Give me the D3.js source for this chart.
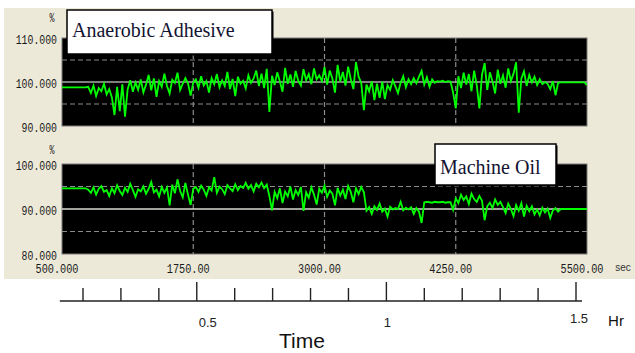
<!DOCTYPE html>
<html><head><meta charset="utf-8">
<script src="https://cdn.jsdelivr.net/npm/d3@7"></script>
<style>html,body{margin:0;padding:0;background:#fff}svg{display:block}</style>
</head><body>
<svg id="c" width="635" height="353"></svg>
<script>
// ---- data ----
const sampleTimesStart = 500, sampleTimesStep = 25; // seconds, 201 samples 500..5500
const xTickValues = [500, 1750, 3000, 4250, 5500];
const xTickLabels = ["500.000", "1750.00", "3000.00", "4250.00", "5500.00"];
const topTickValues = [110, 100, 90];
const topTickLabels = ["110.000", "100.000", "90.000"];
const botTickValues = [100, 90, 80];
const botTickLabels = ["100.000", "90.000", "80.000"];
const hourTicks = [0.2,0.3,0.4,0.5,0.6,0.7,0.8,0.9,1.0,1.1,1.2,1.3,1.4,1.5];
const hourLabels = [{v:0.5,t:"0.5"},{v:1,t:"1"},{v:1.5,t:"1.5"}];
const seriesNames = ["Anaerobic Adhesive", "Machine Oil"];

const anaerobic = [
98.8,98.8,98.8,98.8,98.8,98.8,98.8,98.8,98.8,98.8,
98.9,97.5,99.2,96.8,98.6,97.9,99.6,97.2,98.4,96.5,92.5,98.9,93.4,99.5,92.1,98.3,100.4,97.8,99.9,98.2,100.6,97.6,
99.4,101.6,98.1,100.8,96.6,100.2,98.9,101.9,99.1,97.4,100.5,99.8,102.1,98.2,99.6,100.9,99.7,96.9,
99.9,100.6,98.7,101.3,99.2,100.2,97.6,100.9,99.5,101.8,98.8,100.4,99.1,102.3,98.4,100.7,96.8,101.2,99.6,100.3,98.5,101.5,99.8,
100.8,102.6,99.1,101.9,98.6,103.0,93.2,101.4,99.3,102.2,100.1,97.8,103.2,99.6,101.7,98.9,102.5,100.3,99.2,102.9,100.4,101.8,99.5,103.1,100.6,101.5,
100.2,103.4,99.4,102.6,100.8,97.6,103.9,100.1,102.3,99.2,103.5,100.7,98.4,104.5,101.2,99.8,93.6,
99.4,97.9,100.2,95.9,99.6,96.4,100.1,96.1,99.3,98.2,100.4,99.0,97.5,99.8,101.3,98.8,100.6,99.5,100.9,
99.7,101.2,102.5,99.4,101.1,98.9,100.6,99.8,100.2,100.1,100.3,100.0,100.2,100.1,
97.6,94.0,
101.3,98.6,102.1,99.4,101.8,97.9,102.6,99.3,94.0,101.7,104.3,98.2,102.2,100.1,97.4,102.8,99.6,101.5,98.7,103.1,100.2,101.9,104.5,93.0,100.8,102.4,99.1,101.6,
99.9,101.2,99.3,100.6,99.5,100.0,99.6,98.4,100.2,97.0,99.8,
99.9,99.9,99.9,99.9,99.9,99.9,99.9,99.9,99.9,99.9,99.3
];
const machineOil = [
94.6,94.6,94.6,94.6,94.6,94.6,94.6,94.6,94.6,94.6,
94.3,93.6,94.8,93.2,94.5,95.1,93.8,94.2,92.9,94.6,93.5,95.3,94.0,93.1,94.7,93.8,95.6,94.2,92.7,94.4,93.9,95.0,93.4,94.5,96.0,93.7,94.3,92.8,94.9,93.6,
94.8,90.8,95.4,93.5,96.6,94.0,92.6,95.8,93.2,90.9,
94.5,94.9,93.8,95.2,94.3,92.9,94.8,94.1,97.1,93.6,95.0,94.4,93.3,95.3,94.6,94.0,95.5,94.2,95.1,94.7,95.8,94.5,95.3,93.9,95.6,94.8,95.9,94.6,95.4,
92.9,89.7,93.8,92.4,94.6,91.3,93.9,92.8,95.0,92.1,94.2,93.1,94.9,89.6,93.7,92.5,94.8,93.2,91.0,94.5,93.6,95.2,92.7,94.1,93.4,90.8,94.7,93.0,94.3,92.2,95.1,93.8,91.5,94.6,93.3,94.9,93.7,
89.6,90.4,88.9,90.6,89.8,91.2,89.4,90.1,88.3,90.5,89.9,90.2,90.0,91.6,89.7,90.3,89.9,90.4,88.9,90.2,89.4,86.9,
91.5,91.6,91.5,91.4,91.6,91.5,91.5,91.6,91.4,91.5,91.5,
89.8,
92.4,91.3,93.2,92.0,92.8,91.1,93.4,92.2,91.6,92.9,91.8,
87.5,90.6,
91.4,90.2,92.1,90.9,91.6,
90.4,89.1,91.2,90.0,88.4,90.9,89.6,91.3,88.3,90.7,89.5,90.6,88.8,
89.9,88.6,90.3,89.2,90.1,88.0,89.7,90.2,89.4,90.0,
90.0,90.0,90.0,90.0,90.0,90.0,90.0,90.0,90.0,90.0
];

// ---- drawing ----
const svg = d3.select("#c");
svg.append("rect").attr("x",4).attr("y",8).attr("width",631).attr("height",271).attr("fill","#ECE9D8");

const x = d3.scaleLinear().domain([500,5500]).range([62,587]);
const panels = [
  {data: anaerobic, y: d3.scaleLinear().domain([90,110]).range([126,38]), ticks: topTickValues, labels: topTickLabels, dashed:[105,95], solid:100, solidColor:"#a8a8a8", pctY:17, id:"a"},
  {data: machineOil, y: d3.scaleLinear().domain([80,100]).range([254,164]), ticks: botTickValues, labels: botTickLabels, dashed:[95,85], solid:90, solidColor:"#d8d8d0", pctY:149, id:"b"}
];

const monoFont = "'Liberation Mono','DejaVu Sans Mono',monospace";

panels.forEach(p => {
  const [y0,y1] = p.y.range();
  const g = svg.append("g");
  g.append("rect").attr("x",x(500)).attr("y",y1).attr("width",x(5500)-x(500)).attr("height",y0-y1)
    .attr("fill","#000").attr("stroke","#7a7a7a").attr("stroke-width",1);
  svg.append("clipPath").attr("id","clip"+p.id).append("rect")
    .attr("x",x(500)).attr("y",y1).attr("width",x(5500)-x(500)).attr("height",y0-y1);
  // grid
  p.dashed.forEach(v => g.append("line").attr("x1",x(500)).attr("x2",x(5500)).attr("y1",p.y(v)).attr("y2",p.y(v))
    .attr("stroke","#8c8c8c").attr("stroke-width",1.2).attr("stroke-dasharray","5,3"));
  [1750,3000,4250].forEach(v => g.append("line").attr("x1",x(v)).attr("x2",x(v)).attr("y1",y1).attr("y2",y0)
    .attr("stroke","#8c8c8c").attr("stroke-width",1.2).attr("stroke-dasharray","5,3"));
  g.append("line").attr("x1",x(500)).attr("x2",x(5500)).attr("y1",p.y(p.solid)).attr("y2",p.y(p.solid))
    .attr("stroke",p.solidColor).attr("stroke-width",1.6);
  // signal
  const line = d3.line().x((d,i)=>x(sampleTimesStart + i*sampleTimesStep)).y(d=>p.y(d));
  g.append("path").attr("d",line(p.data)).attr("fill","none").attr("stroke","#00ff00")
    .attr("stroke-width",1.8).attr("stroke-linejoin","miter").attr("clip-path","url(#clip"+p.id+")");
  // y labels
  p.ticks.forEach((v,i) => {
    const t = p.labels[i];
    g.append("text").attr("x",57).attr("y",p.y(v)+6).attr("text-anchor","end")
      .attr("font-family",monoFont).attr("font-size",13).attr("fill","#1a1a1a")
      .attr("textLength", t.length*5.9).attr("lengthAdjust","spacingAndGlyphs").text(t);
  });
  g.append("text").attr("x",52).attr("y",p.pctY+5).attr("text-anchor","middle")
    .attr("font-family",monoFont).attr("font-size",12).attr("fill","#1a1a1a")
    .attr("textLength",5).attr("lengthAdjust","spacingAndGlyphs").text("%");
});

// x tick labels
xTickValues.forEach((v,i) => {
  svg.append("text").attr("x",x(v)-5).attr("y",273).attr("text-anchor","middle")
    .attr("font-family",monoFont).attr("font-size",13).attr("fill","#1a1a1a")
    .attr("textLength",43).attr("lengthAdjust","spacingAndGlyphs").text(xTickLabels[i]);
});
svg.append("text").attr("x",623).attr("y",271).attr("text-anchor","middle")
  .attr("font-family","'Liberation Sans',Arial,sans-serif").attr("font-size",10).attr("fill","#333").text("sec");

// label boxes
function labelBox(bx,by,bw,bh,txt,tx,ty){
  svg.append("rect").attr("x",bx+1.5).attr("y",by+1.5).attr("width",bw).attr("height",bh).attr("fill","#000");
  svg.append("rect").attr("x",bx).attr("y",by).attr("width",bw).attr("height",bh).attr("fill","#fff")
    .attr("stroke","#000").attr("stroke-width",1.5);
  svg.append("text").attr("x",tx).attr("y",ty).attr("font-family","'Liberation Serif','Times New Roman',serif")
    .attr("font-size",20).attr("fill","#141432").text(txt);
}
labelBox(67,10,205,44,seriesNames[0],72,37);
labelBox(435,144,121,41,seriesNames[1],440,174);

// hour axis
const hx = d3.scaleLinear().domain([0.2,1.5]).range([83,576]);
const axY = 301;
svg.append("line").attr("x1",hx(500/3600)).attr("x2",582).attr("y1",axY).attr("y2",axY)
  .attr("stroke","#222").attr("stroke-width",1.5);
hourTicks.forEach(h => {
  const major = Math.abs(h*2 - Math.round(h*2)) < 1e-6;
  svg.append("line").attr("x1",hx(h)).attr("x2",hx(h)).attr("y1",axY).attr("y2",axY-(major?19:13))
    .attr("stroke","#222").attr("stroke-width",1.4);
});
const hourDx = {"0.5":11, "1":1, "1.5":3};
hourLabels.forEach(d => {
  svg.append("text").attr("x",hx(d.v)+hourDx[d.t]).attr("y",d.v===1.5?323:327).attr("text-anchor","middle")
    .attr("font-family","'Liberation Sans',Arial,sans-serif").attr("font-size",13).attr("fill","#222").text(d.t);
});
svg.append("text").attr("x",616).attr("y",326).attr("text-anchor","middle")
  .attr("font-family","'Liberation Sans',Arial,sans-serif").attr("font-size",15).attr("fill","#111").text("Hr");
svg.append("text").attr("x",302).attr("y",348).attr("text-anchor","middle")
  .attr("font-family","'Liberation Sans',Arial,sans-serif").attr("font-size",21).attr("fill","#111").text("Time");
</script>
</body></html>
